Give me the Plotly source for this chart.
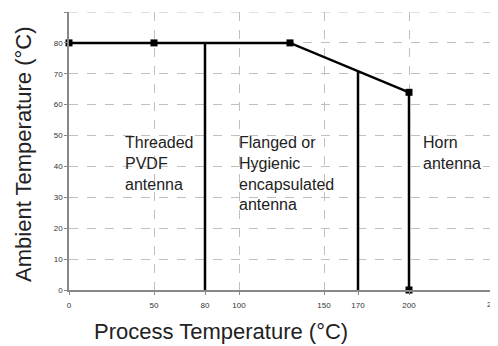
import plotly.graph_objects as go

# Temperature limit curve (process temp vs ambient temp)
limit_x = [0, 50, 130, 200]
limit_y = [80, 80, 80, 64]

# Vertical dividers between antenna types
divider_x = [80, 170, 200]
divider_top = [80, 71, 64]

# Square markers
marker_x = [0, 50, 130, 200, 200]
marker_y = [80, 80, 80, 64, 0]

# Region labels
region_labels = ["Threaded<br>PVDF<br>antenna",
                 "Flanged or<br>Hygienic<br>encapsulated<br>antenna",
                 "Horn<br>antenna"]
label_x = [32, 99, 207]
label_y = [51, 51, 51]

x_range = [0, 250]
y_range = [0, 90]
x_ticks = [0, 50, 80, 100, 150, 170, 200, 250]
x_grid = [50, 100, 150, 200, 250]
y_ticks = [0, 10, 20, 30, 40, 50, 60, 70, 80, 90]

FONT = 'Liberation Sans, Arial, sans-serif'
GRID = '#c0c0c0'

fig = go.Figure()

fig.add_trace(go.Scatter(
    x=limit_x, y=limit_y, mode='lines',
    line=dict(color='black', width=2.5), showlegend=False, hoverinfo='skip'
))

for dx, top in zip(divider_x, divider_top):
    fig.add_trace(go.Scatter(
        x=[dx, dx], y=[0, top], mode='lines',
        line=dict(color='black', width=2.5), showlegend=False, hoverinfo='skip'
    ))

fig.add_trace(go.Scatter(
    x=marker_x, y=marker_y, mode='markers',
    marker=dict(symbol='square', size=7, color='black'),
    showlegend=False, cliponaxis=False
))

for txt, lx, ly in zip(region_labels, label_x, label_y):
    fig.add_annotation(
        x=lx, y=ly, text=txt, showarrow=False, align='left',
        xanchor='left', yanchor='top',
        font=dict(family=FONT, size=16, color='#222')
    )

# dashed grid on the top and right edges of the plot area
fig.add_shape(type='line', xref='paper', yref='y', x0=0, x1=1,
              y0=y_range[1], y1=y_range[1],
              line=dict(color=GRID, width=1, dash='dash'), layer='below')
fig.add_shape(type='line', xref='x', yref='paper', x0=x_range[1], x1=x_range[1],
              y0=0, y1=1,
              line=dict(color=GRID, width=1, dash='dash'), layer='below')

# last x tick label runs off the page edge (plotly hides it), so draw it
fig.add_annotation(
    x=x_ticks[-1], y=y_range[0], yshift=-14, text=str(x_ticks[-1]),
    showarrow=False, xanchor='center', yanchor='middle',
    font=dict(family=FONT, size=8, color='#333')
)

# Axis titles
fig.add_annotation(
    xref='paper', yref='paper', x=0.358, y=0, yshift=-41,
    text='Process Temperature (°C)', showarrow=False,
    xanchor='center', yanchor='middle',
    font=dict(family=FONT, size=22, color='#222')
)
fig.add_annotation(
    xref='paper', yref='paper', x=0, xshift=-45, y=0.486,
    text='Ambient Temperature (°C)', showarrow=False, textangle=-90,
    xanchor='center', yanchor='middle',
    font=dict(family=FONT, size=22, color='#222')
)

fig.update_xaxes(
    range=x_range, tickmode='array', tickvals=x_ticks,
    showgrid=False, zeroline=False,
    showline=True, linecolor='#888', linewidth=1.5,
    ticks='outside', ticklen=3, tickcolor='#888',
    tickfont=dict(family=FONT, size=8, color='#333'),
    ticklabelstandoff=4,
    minor=dict(tickmode='array', tickvals=x_grid,
               showgrid=True, gridcolor=GRID, griddash='dash', gridwidth=1)
)
fig.update_yaxes(
    range=y_range, tickmode='array', tickvals=y_ticks,
    showgrid=True, gridcolor=GRID, griddash='dash', gridwidth=1,
    zeroline=False,
    showline=True, linecolor='#888', linewidth=1.5,
    ticks='outside', ticklen=3, tickcolor='#888',
    tickfont=dict(family=FONT, size=8, color='#333'),
)

# page body has an 8px default margin, so the figure is sized to sit
# inside the 498x346 window with the plot area where the reference has it
fig.update_layout(
    width=490, height=338,
    margin=dict(l=61, r=4, t=4, b=56),
    plot_bgcolor='white', paper_bgcolor='white',
    showlegend=False
)

fig.write_html("out.html")
